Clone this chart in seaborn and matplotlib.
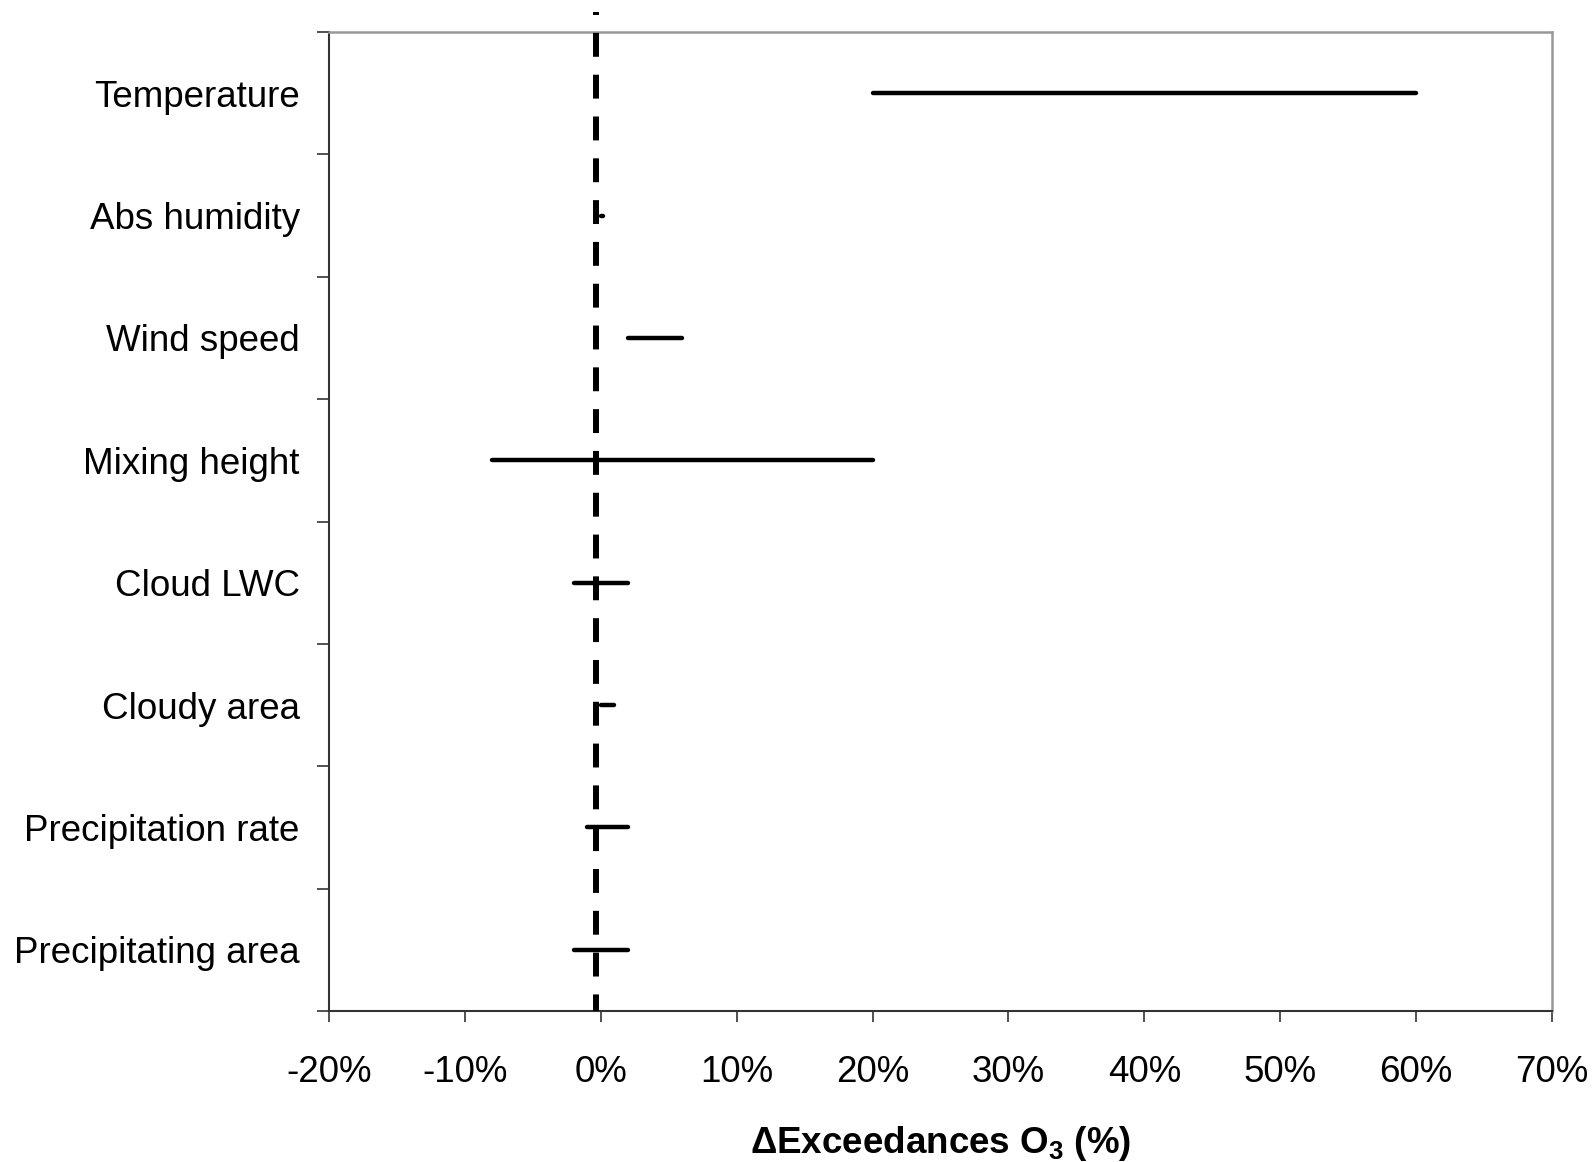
import matplotlib
matplotlib.use("Agg")
import matplotlib.pyplot as plt
import seaborn as sns
import pandas as pd
from matplotlib.ticker import FixedLocator, FuncFormatter

categories = ["Temperature", "Abs humidity", "Wind speed", "Mixing height",
              "Cloud LWC", "Cloudy area", "Precipitation rate", "Precipitating area"]
low = [20.0, 0.0, 2.0, -8.0, -2.0, 0.0, -1.0, -2.0]
high = [60.0, 0.2, 6.0, 20.0, 2.0, 1.0, 2.0, 2.0]
ref_line = -0.35
xticks = [-20, -10, 0, 10, 20, 30, 40, 50, 60, 70]

df = pd.DataFrame({
    "category": categories * 2,
    "value": low + high,
})

sns.set_style("white")
plt.rcParams["font.family"] = ["Liberation Sans", "DejaVu Sans"]
plt.rcParams["mathtext.default"] = "regular"
plt.rcParams["text.color"] = "black"
plt.rcParams["xtick.labelcolor"] = "black"
plt.rcParams["ytick.labelcolor"] = "black"
plt.rcParams["axes.labelcolor"] = "black"

fig = plt.figure(figsize=(15.95, 11.62), dpi=100)
ax = fig.add_axes([329 / 1595, 1 - 1011 / 1162, (1552 - 329) / 1595, (1011 - 32) / 1162])

sns.pointplot(data=df, x="value", y="category", order=categories,
              errorbar=("pi", 100), estimator="mean", color="black",
              marker="", linestyle="none",
              err_kws={"linewidth": 3.2, "solid_capstyle": "round"}, ax=ax)

ax.set_xlim(-20, 70)
ax.set_ylim(len(categories) - 0.5, -0.5)

# dashed reference line, extending slightly above the plot area
ytop = -0.5 - 20 / 122.4
ax.plot([ref_line, ref_line], [ytop, len(categories) - 0.5], color="black",
        linewidth=4.3, linestyle=(3.5, (4, 3)), clip_on=False, zorder=5,
        dash_capstyle="butt")

ax.set_xticks(xticks)
ax.xaxis.set_major_formatter(FuncFormatter(lambda v, p: f"{int(round(v))}%"))

ax.yaxis.set_major_locator(FixedLocator([i - 0.5 for i in range(len(categories) + 1)]))
ax.yaxis.set_minor_locator(FixedLocator(list(range(len(categories)))))
ax.set_yticklabels([], minor=False)
ax.set_yticklabels(categories, minor=True)
ax.tick_params(axis="y", which="major", direction="out", length=8.6, width=1.2,
               color="#333333", left=True)
ax.tick_params(axis="y", which="minor", length=0, pad=21, labelsize=26.5, left=True,
               labelcolor="black")
ax.tick_params(axis="x", which="major", direction="out", length=8, width=1.2,
               color="#333333", pad=24, labelsize=26.5, bottom=True, labelcolor="black")

for s in ["left", "bottom"]:
    ax.spines[s].set_color("#333333")
    ax.spines[s].set_linewidth(1.5)
for s in ["top", "right"]:
    ax.spines[s].set_color("#999999")
    ax.spines[s].set_linewidth(1.8)

ax.set_ylabel("")
ax.set_xlabel("ΔExceedances O$_3$ (%)", fontsize=26.5, fontweight="bold", labelpad=24,
              color="black")

fig.savefig("out.png", dpi=100, facecolor="white")
